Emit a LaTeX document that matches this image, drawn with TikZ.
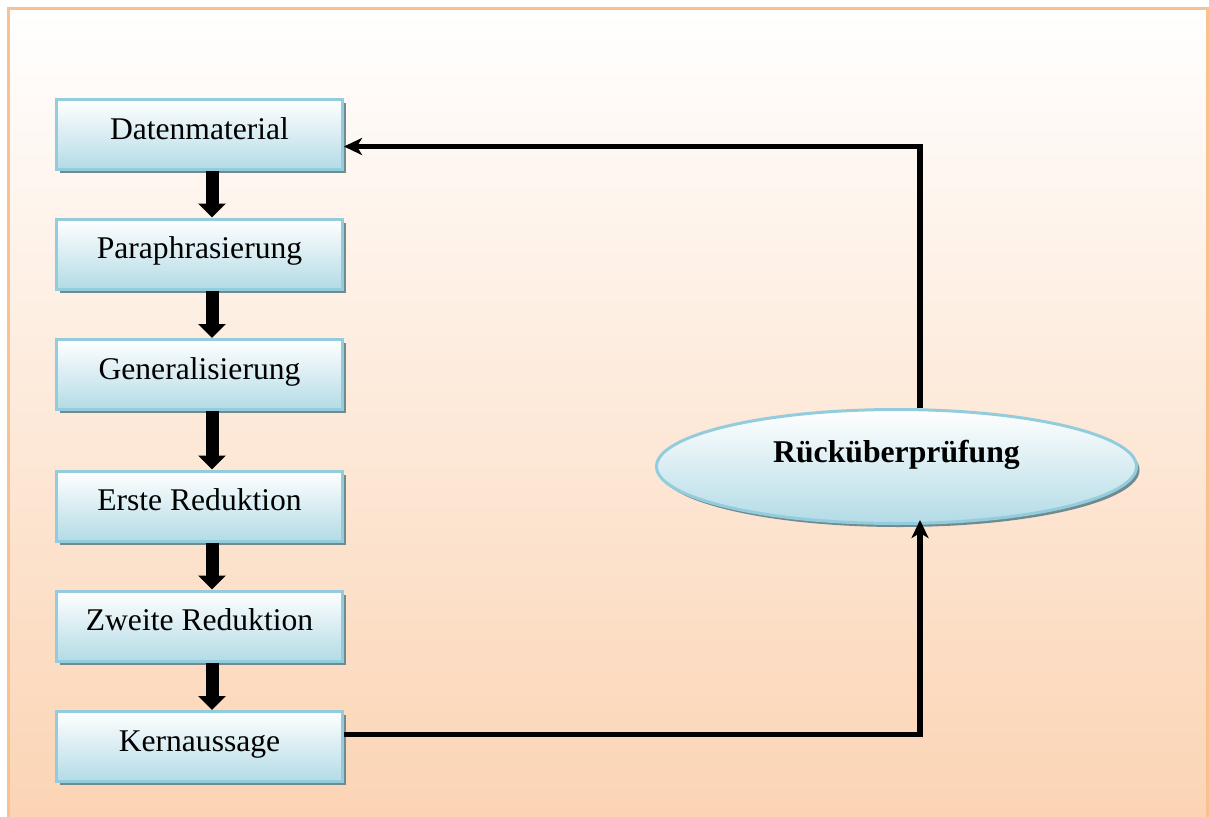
\documentclass[tikz,border=0pt]{standalone}
\usepackage{fontspec}
\setmainfont{Liberation Serif}
\usetikzlibrary{arrows.meta,shapes.geometric,shadows}

\definecolor{framec}{HTML}{FAC08F}
\definecolor{peach}{HTML}{FBD4B4}
\definecolor{boxline}{HTML}{93CDDD}
\definecolor{boxfill}{HTML}{B3DBE6}
\definecolor{shadowc}{HTML}{708A8F}

\tikzset{
  stepbox/.style={draw=boxline, line width=3pt, rectangle,
    top color=white, bottom color=boxfill,
    minimum width=286pt, minimum height=70pt, inner sep=0pt,
    text height=22pt, text depth=13pt,
    font=\fontsize{31.6}{38}\selectfont,
    drop shadow={shadow xshift=3pt, shadow yshift=-3.5pt, fill=shadowc, opacity=1}},
  checkell/.style={draw=boxline, line width=3pt, ellipse,
    top color=white, bottom color=boxfill,
    minimum width=480pt, minimum height=114pt, inner sep=0pt,
    text height=12pt, text depth=20pt,
    font=\fontsize{31.7}{38}\selectfont\bfseries,
    drop shadow={shadow xshift=3pt, shadow yshift=-3.5pt, fill=shadowc, opacity=1}},
  fatarrow/.style={line width=13pt, -{Triangle[length=14pt, width=27pt]}},
  loopline/.style={line width=5.5pt, -{Stealth[length=18pt, width=17pt, inset=5pt]}}
}

\begin{document}
\begin{tikzpicture}[x=1pt, y=-1pt]
  \useasboundingbox (0,0) rectangle (1209,816);
  \clip (0,0) rectangle (1209,816);

  % page background with frame
  \shade[top color=white, bottom color=peach] (8,9) rectangle (1207,816);
  \draw[framec, line width=3pt] (8,830) -- (8,9) -- (1207,9) -- (1207,830);

  % process steps
  \node[stepbox] (b1) at (199.5,134.5) {Datenmaterial};
  \node[stepbox] (b2) at (199.5,254)   {Paraphrasierung};
  \node[stepbox] (b3) at (199.5,374.5) {Generalisierung};
  \node[stepbox] (b4) at (199.5,506)   {Erste Reduktion};
  \node[stepbox] (b5) at (199.5,626)   {Zweite Reduktion};
  \node[stepbox] (b6) at (199.5,746.5) {Kernaussage};

  % review step
  \node[checkell] (ck) at (896.5,466.5) {Rücküberprüfung};

  % downward flow
  \foreach \a/\b in {b1/b2, b2/b3, b3/b4, b4/b5, b5/b6}
    \draw[fatarrow] ([xshift=12.5pt]\a.south) -- ([xshift=12.5pt]\b.north);

  % feedback loop
  \draw[loopline, shorten >=-5pt] ([yshift=12pt]b6.east) -| ([xshift=23.5pt]ck.south);
  \draw[loopline] ([xshift=23.5pt]ck.north) |- ([yshift=-12pt]b1.east);
\end{tikzpicture}
\end{document}
